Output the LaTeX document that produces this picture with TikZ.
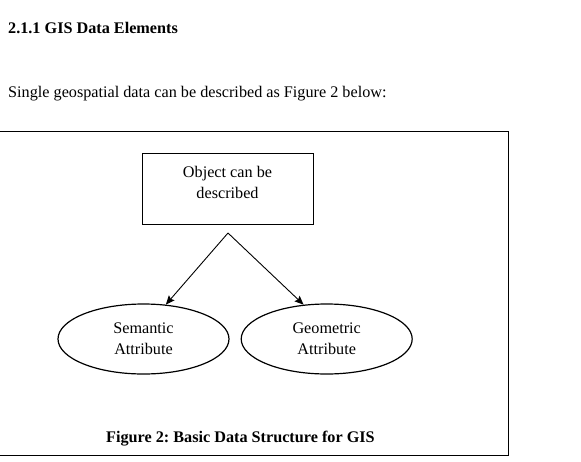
\documentclass[tikz,border=0pt]{standalone}
\usepackage{fontspec}
\setmainfont{Liberation Serif}
\usetikzlibrary{arrows.meta, positioning, shapes.geometric}
\frenchspacing

\begin{document}
\begin{tikzpicture}[
  x=1pt, y=-1pt,
  node distance=11pt,
  txt/.style={anchor=base west, inner sep=0pt, font=\fontsize{16.2}{21}\selectfont},
  box/.style={draw, line width=0.9pt, minimum width=171pt, minimum height=71pt,
              text depth=13pt, align=center, font=\fontsize{16.2}{21}\selectfont},
  attr/.style={draw, ellipse, line width=1.2pt, minimum width=171pt,
               minimum height=70pt, inner sep=0pt, align=center,
               font=\fontsize{16.2}{21}\selectfont},
  arr/.style={-{Stealth[length=9pt,width=7.5pt,inset=1.5pt]}, line width=0.9pt}
]
\useasboundingbox (0,0) rectangle (581,461);

\node[txt] (head) at (8,33) {\bfseries 2.1.1 GIS Data Elements};
\node[txt] (intro) at (8,97) {Single geospatial data can be described as Figure 2 below:};

\draw[line width=0.8pt] (0,131) -- (508,131) -- (508,455) -- (0,455);

\node[box] (obj) at (227.5,188.5) {Object can be\\described};
\node[attr] (sem) at (143.5,339) {Semantic\\Attribute};
\node[attr, right=of sem] (geo) {Geometric\\Attribute};
\coordinate (apex) at (228,233);

\draw[arr] (apex) -- (sem.57);
\draw[arr] (apex) -- (geo.124);

\node[txt] (cap) at (106,442) {\bfseries Figure 2: Basic Data Structure for GIS};

\end{tikzpicture}
\end{document}
